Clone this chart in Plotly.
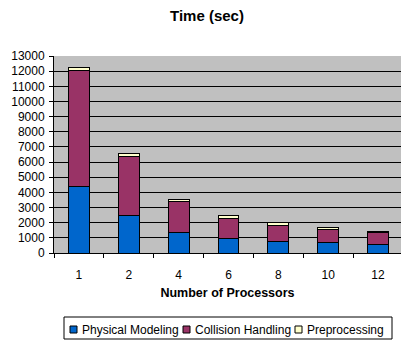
import plotly.graph_objects as go

# Run times (seconds) per processor count, split by stage
processors = ["1", "2", "4", "6", "8", "10", "12"]
physical_modeling = [4400, 2450, 1350, 970, 750, 680, 530]
collision_handling = [7650, 3900, 2050, 1330, 1080, 880, 810]
preprocessing = [200, 200, 150, 200, 170, 140, 110]
y_ticks = list(range(0, 13001, 1000))

FONT = "Liberation Sans, Arial, sans-serif"
W, H = 401, 342
LEFT, TOP, BOTTOM = 54, 56, 89
PLOT_W = W - LEFT
PLOT_H = H - TOP - BOTTOM

series = [
    ("Physical Modeling", physical_modeling, "#0066CC"),
    ("Collision Handling", collision_handling, "#993366"),
    ("Preprocessing", preprocessing, "#FFFFCC"),
]


def px_x(px):
    return (px - LEFT) / PLOT_W


def px_y(py):
    return (H - BOTTOM - py) / PLOT_H


fig = go.Figure()
for name, vals, color in series:
    fig.add_trace(go.Bar(
        x=processors, y=vals, name=name, width=0.42,
        marker=dict(color=color, line=dict(color="#000000", width=1)),
        showlegend=False,
    ))

# plot area runs past the right edge of the page
cat_px = 49.85
x_hi = -0.5 + PLOT_W / cat_px

# compact boxed legend under the axis title
shapes = [dict(type="rect", xref="paper", yref="paper",
               x0=px_x(64), x1=px_x(392), y0=px_y(317), y1=px_y(339),
               line=dict(color="#000000", width=1), fillcolor="#FFFFFF", layer="above")]
annotations = []
legend_items = [(70, 81), (183, 194), (295, 306)]
for (sq_x, txt_x), (name, _, color) in zip(legend_items, series):
    shapes.append(dict(type="rect", xref="paper", yref="paper",
                       x0=px_x(sq_x), x1=px_x(sq_x + 7), y0=px_y(326), y1=px_y(333),
                       line=dict(color="#000000", width=1), fillcolor=color, layer="above"))
    annotations.append(dict(text=name, xref="paper", yref="paper",
                            x=px_x(txt_x - 1), y=px_y(329.5), xanchor="left", yanchor="middle",
                            showarrow=False, font=dict(size=12, family=FONT)))

fig.update_layout(
    width=W, height=H,
    margin=dict(l=LEFT, r=0, t=TOP, b=BOTTOM, pad=0),
    barmode="stack",
    paper_bgcolor="#FFFFFF",
    plot_bgcolor="#C0C0C0",
    font=dict(family=FONT, size=12, color="#000000"),
    title=dict(text="<b>Time (sec)</b>", font=dict(size=15, family=FONT),
               x=207 / W, xanchor="center", xref="container",
               y=1 - 16 / H, yanchor="middle", yref="container"),
    shapes=shapes,
    annotations=annotations,
)

fig.update_xaxes(
    type="category", range=[-0.5, x_hi],
    tickson="boundaries", ticks="outside", ticklen=4, tickcolor="#000000",
    showline=True, linecolor="#000000", linewidth=1,
    showgrid=False, tickfont=dict(size=12, family=FONT),
    ticklabelstandoff=11,
    title=dict(text="<b>Number of Processors</b>", font=dict(size=12.5, family=FONT), standoff=6),
)
fig.update_yaxes(
    range=[0, 13000], tickvals=y_ticks, ticktext=[str(v) for v in y_ticks],
    ticks="outside", ticklen=4, tickcolor="#000000",
    showline=True, linecolor="#000000", linewidth=1,
    showgrid=True, gridcolor="#000000", gridwidth=1,
    zeroline=False, tickfont=dict(size=12, family=FONT),
    ticklabelstandoff=2,
)

fig.write_html("out.html")
